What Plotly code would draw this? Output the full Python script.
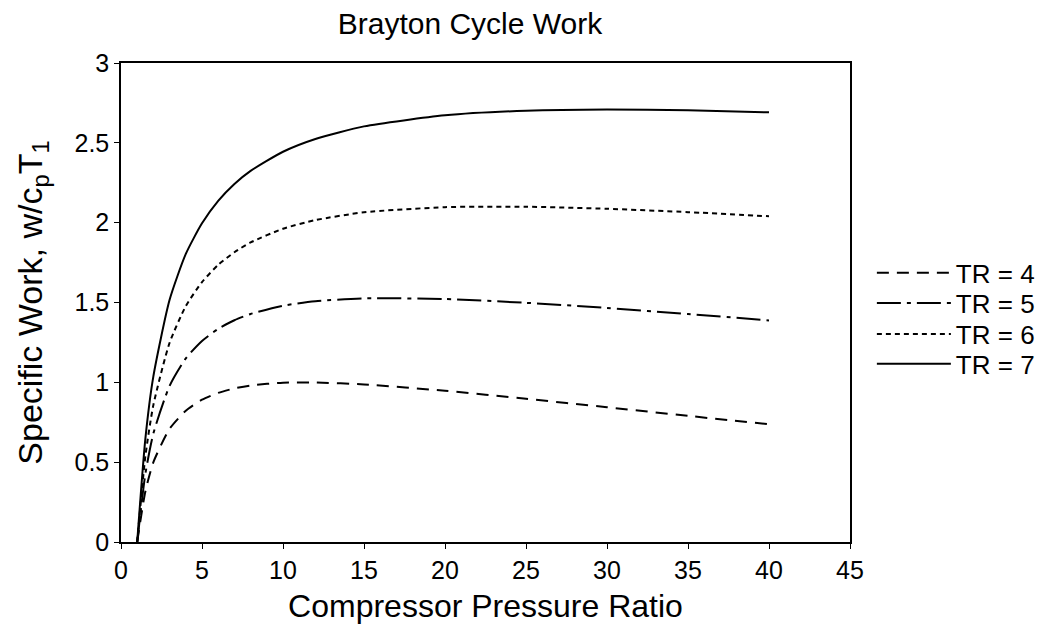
"""Brayton cycle specific work vs compressor pressure ratio."""

import plotly.graph_objects as go

# Compressor pressure ratio (x)
pressure_ratio = [1, 1.5, 2, 3, 4, 5, 6, 7, 8, 10, 12, 15, 20, 25, 30, 35, 40]

# Specific work w/cpT1 for each temperature ratio
work_tr4 = [0, 0.315, 0.500, 0.709, 0.822, 0.891, 0.934, 0.962, 0.980, 0.998,
            0.999, 0.987, 0.947, 0.897, 0.844, 0.790, 0.737]
work_tr5 = [0, 0.424, 0.680, 0.978, 1.150, 1.259, 1.335, 1.389, 1.428, 1.480,
            1.508, 1.526, 1.522, 1.498, 1.466, 1.428, 1.388]
work_tr6 = [0, 0.534, 0.859, 1.248, 1.477, 1.628, 1.736, 1.815, 1.876, 1.962,
            2.016, 2.065, 2.097, 2.100, 2.087, 2.066, 2.040]
work_tr7 = [0, 0.643, 1.039, 1.517, 1.804, 1.996, 2.136, 2.242, 2.324, 2.444,
            2.524, 2.603, 2.672, 2.701, 2.709, 2.704, 2.691]

series_names = ["TR = 4", "TR = 5", "TR = 6", "TR = 7"]
series_values = [work_tr4, work_tr5, work_tr6, work_tr7]
dashes = ["12px,8px", "24px,6px,4px,6px", "5px,4px", "solid"]

FONT = "Liberation Sans, Arial, Helvetica, sans-serif"

# one legend per entry so the rows can sit closer than plotly's default spacing
legend_ids = ["legend", "legend2", "legend3", "legend4"]
legend_rows = [0.562, 0.499, 0.434, 0.372]

fig = go.Figure()
for name, values, dash, leg in zip(series_names, series_values, dashes, legend_ids):
    fig.add_trace(
        go.Scatter(
            x=pressure_ratio,
            y=values,
            mode="lines",
            name=name,
            legend=leg,
            showlegend=True,
            line=dict(color="black", width=2, dash=dash, shape="spline", smoothing=0.6),
        )
    )

axis_common = dict(
    showgrid=False,
    zeroline=False,
    showline=True,
    linecolor="black",
    linewidth=1.5,
    ticks="outside",
    ticklen=5,
    tickcolor="black",
    tickfont=dict(size=25, family=FONT, color="black"),
    mirror=True,
)

legend_common = dict(
    x=1.030,
    xanchor="left",
    yanchor="middle",
    font=dict(size=26, family=FONT, color="black"),
    itemwidth=74,
    bgcolor="rgba(0,0,0,0)",
)

fig.update_layout(
    width=1047,
    height=626,
    showlegend=True,
    paper_bgcolor="white",
    plot_bgcolor="white",
    margin=dict(l=113, r=205, t=55, b=92),
    title=dict(
        text="Brayton Cycle Work",
        x=462 / 1047,
        xanchor="center",
        y=0.976,
        yanchor="middle",
        font=dict(size=30, family=FONT, color="black"),
    ),
    xaxis=dict(
        axis_common,
        range=[0, 45],
        dtick=5,
        title=dict(text="Compressor Pressure Ratio", font=dict(size=32, family=FONT, color="black"), standoff=12),
    ),
    yaxis=dict(
        axis_common,
        range=[0, 3],
        dtick=0.5,
        title=dict(
            text="Specific Work, w/c<sub>p</sub>T<sub>1</sub>",
            font=dict(size=34, family=FONT, color="black"),
            standoff=22,
        ),
    ),
)

for leg, row in zip(legend_ids, legend_rows):
    fig.update_layout({leg: dict(legend_common, y=row)})

fig.write_html("out.html")
